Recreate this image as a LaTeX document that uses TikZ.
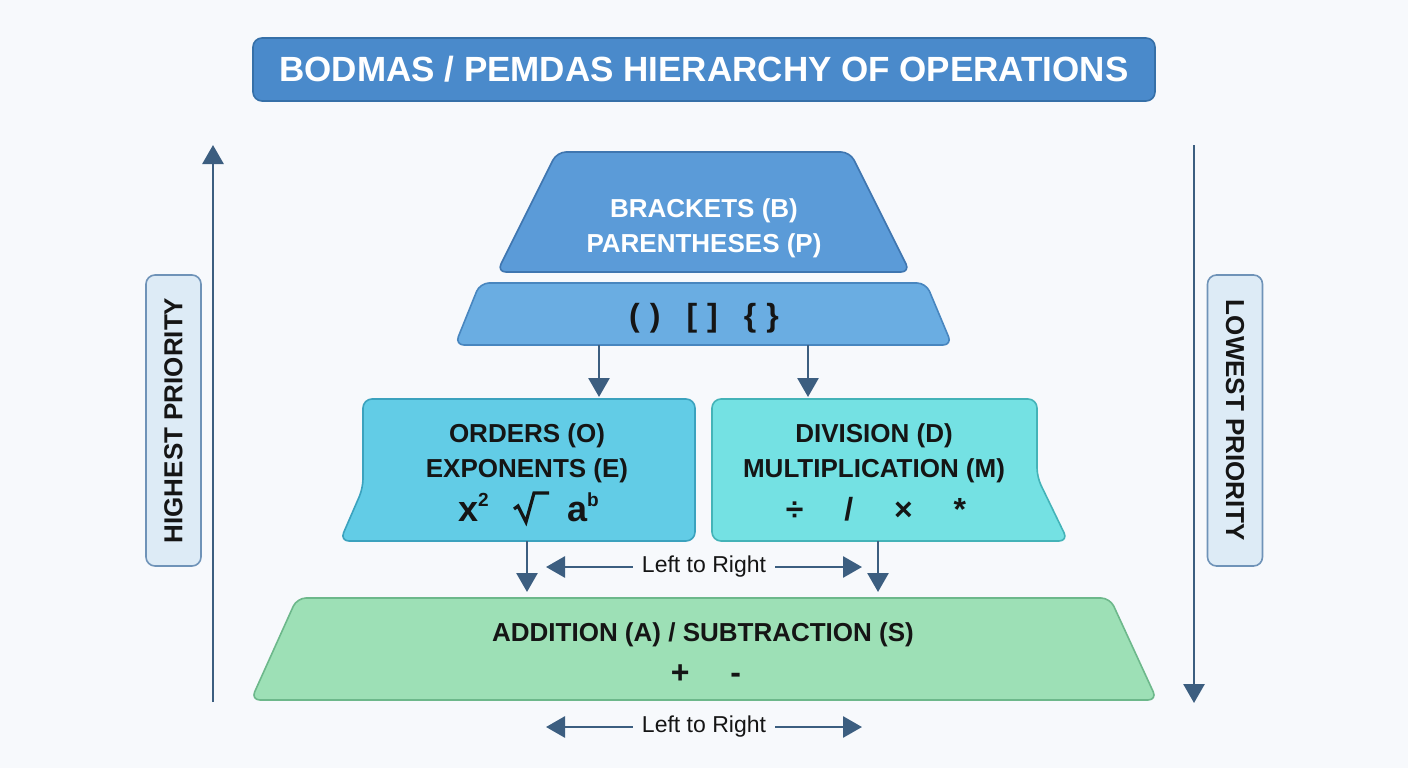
\documentclass[tikz,border=0pt]{standalone}
\usepackage{fontspec}
\setmainfont{Liberation Sans}
\usetikzlibrary{arrows.meta}
\definecolor{bgc}{HTML}{F7F9FC}
\definecolor{titlefill}{HTML}{4A8ACB}
\definecolor{titledraw}{HTML}{3670A8}
\definecolor{bfill}{HTML}{5B9BD8}
\definecolor{bdraw}{HTML}{3F76B0}
\definecolor{bandfill}{HTML}{6AADE2}
\definecolor{banddraw}{HTML}{4886BF}
\definecolor{ofill}{HTML}{62CCE6}
\definecolor{odraw}{HTML}{3BA2BE}
\definecolor{dfill}{HTML}{74E1E3}
\definecolor{ddraw}{HTML}{44B3B8}
\definecolor{gfill}{HTML}{9DE0B6}
\definecolor{gdraw}{HTML}{6DB88B}
\definecolor{arrc}{HTML}{3C5E80}
\definecolor{prfill}{HTML}{DDEBF6}
\definecolor{prdraw}{HTML}{6F93B8}
\definecolor{txt}{HTML}{151515}
\begin{document}
\begin{tikzpicture}[x=1pt,y=-1pt,
  shapebox/.style={line width=1.6pt, rounded corners=9pt},
  wtext/.style={text=white, font=\fontsize{26}{26}\selectfont\bfseries, inner sep=0pt, anchor=base},
  btext/.style={text=txt, font=\fontsize{26}{26}\selectfont\bfseries, inner sep=0pt, anchor=base},
  symtext/.style={text=txt, font=\fontsize{32}{32}\selectfont\bfseries, inner sep=0pt, anchor=base},
  ltr/.style={text=txt, font=\fontsize{23}{23}\selectfont, inner sep=0pt},
  arr/.style={draw=arrc, line width=2.8pt, -{Triangle[length=19pt,width=21pt]}},
  prbox/.style={draw=prdraw, fill=prfill, line width=1.6pt, rounded corners=9pt,
    minimum width=291pt, minimum height=55pt, text=txt,
    font=\fontsize{26}{26}\selectfont\bfseries, inner sep=0pt},
  titlebox/.style={draw=titledraw, fill=titlefill, line width=1.6pt, rounded corners=9pt,
    minimum width=902pt, minimum height=63pt, text=white,
    font=\fontsize{35}{35}\selectfont\bfseries, inner sep=0pt}]
\useasboundingbox (0,0) rectangle (1408,768);
\fill[bgc] (0,0) rectangle (1408,768);

% title
\node[titlebox] (title) at (704,69.5) {BODMAS / PEMDAS HIERARCHY OF OPERATIONS};

% brackets trapezoid
\draw[shapebox, draw=bdraw, fill=bfill] (557,152) -- (850,152) -- (910,272) -- (497,272) -- cycle;
\node[wtext] (b1) at (704,217) {BRACKETS (B)};
\node[wtext] (b2) at (704,252) {PARENTHESES (P)};

% symbols band
\draw[shapebox, draw=banddraw, fill=bandfill] (480,283) -- (926,283) -- (952,345) -- (455,345) -- cycle;
\node[symtext] (sym) at (704,326) {(\hspace{10pt})\hspace{26pt}[\hspace{10pt}]\hspace{26pt}\{\hspace{10pt}\}};

% orders box
\draw[shapebox, draw=odraw, fill=ofill] (363,399) -- (695,399) -- (695,541) -- (340,541) -- (363,488) -- cycle;
\node[btext] (o1) at (527,442) {ORDERS (O)};
\node[btext] (o2) at (527,477) {EXPONENTS (E)};
\node[symtext, font=\fontsize{36}{36}\selectfont\bfseries, anchor=base east] (o3a) at (489,521)
  {x\raisebox{0.40em}{\fontsize{19}{19}\selectfont 2}};
\coordinate (rad0) at (514,509);
\coordinate (rad1) at (518,506);
\coordinate (rad2) at (526,522);
\coordinate (rad3) at (534,493);
\coordinate (rad4) at (549,493);
\draw[txt, line width=3.2pt, line join=miter] (rad0) -- (rad1) -- (rad2) -- (rad3) -- (rad4);
\node[symtext, font=\fontsize{36}{36}\selectfont\bfseries, anchor=base west] (o3c) at (567,521)
  {a\raisebox{0.40em}{\fontsize{19}{19}\selectfont b}};

% division box
\draw[shapebox, draw=ddraw, fill=dfill] (712,399) -- (1037,399) -- (1037,477) -- (1068,541) -- (712,541) -- cycle;
\node[btext] (d1) at (874,442) {DIVISION (D)};
\node[btext] (d2) at (874,477) {MULTIPLICATION (M)};
\node[symtext] (d3) at (876,520) {÷\quad\ /\quad\ ×\quad\ *};

% addition trapezoid
\draw[shapebox, draw=gdraw, fill=gfill] (297,598) -- (1110,598) -- (1157,700) -- (251,700) -- cycle;
\node[btext] (a1) at (703,641) {ADDITION (A) / SUBTRACTION (S)};
\node[symtext] (a2) at (706,683) {+\quad\ -};

% arrows between levels
\coordinate (bandL) at (599,345);
\coordinate (ordTop) at (599,397);
\coordinate (bandR) at (808,345);
\coordinate (divTop) at (808,397);
\draw[arr] (bandL) -- (ordTop);
\draw[arr] (bandR) -- (divTop);
\coordinate (ordBot) at (527,541);
\coordinate (addL) at (527,592);
\coordinate (divBot) at (878,541);
\coordinate (addR) at (878,592);
\draw[arr] (ordBot) -- (addL);
\draw[arr] (divBot) -- (addR);

% left to right (middle)
\node[ltr] (ltr1) at (704,567) {Left to Right};
\coordinate (ltr1L) at (546,567);
\coordinate (ltr1R) at (862,567);
\draw[arr] ([xshift=-9pt]ltr1.west) -- (ltr1L);
\draw[arr] ([xshift=9pt]ltr1.east) -- (ltr1R);

% left to right (bottom)
\node[ltr] (ltr2) at (704,727) {Left to Right};
\coordinate (ltr2L) at (546,727);
\coordinate (ltr2R) at (862,727);
\draw[arr] ([xshift=-9pt]ltr2.west) -- (ltr2L);
\draw[arr] ([xshift=9pt]ltr2.east) -- (ltr2R);

% priority axes
\coordinate (lBot) at (213,702);
\coordinate (lTop) at (213,145);
\draw[arr] (lBot) -- (lTop);
\coordinate (rTop) at (1194,145);
\coordinate (rBot) at (1194,703);
\draw[arr] (rTop) -- (rBot);
\node[prbox, rotate=90] (hp) at (173.5,420.5) {HIGHEST PRIORITY};
\node[prbox, rotate=-90] (lp) at (1235,420.5) {LOWEST PRIORITY};
\end{tikzpicture}
\end{document}
